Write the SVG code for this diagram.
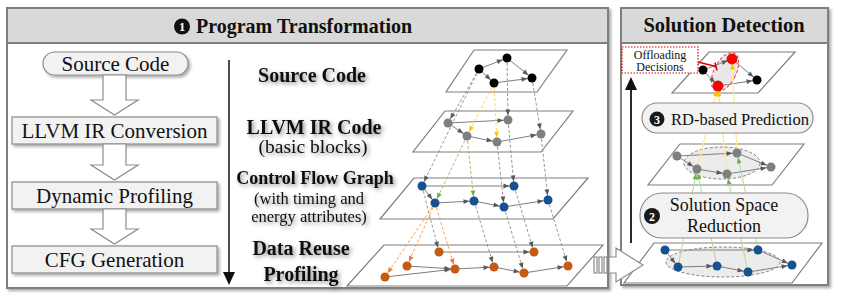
<svg xmlns="http://www.w3.org/2000/svg" width="842" height="302" viewBox="0 0 842 302">
<defs>
<style>
.t{font-family:"Liberation Serif","Times New Roman",serif;fill:#111}
.b{font-weight:bold}
.panel{fill:#fff;stroke:#7f7f7f;stroke-width:2}
.hdr{fill:#d9d9d9;stroke:#7f7f7f;stroke-width:2}
.box{fill:#f2f2f2;stroke:#8c8c8c;stroke-width:1.2}
.barrow{fill:#fff;stroke:#8c8c8c;stroke-width:1.2}
.plane{fill:none;stroke:#7f7f7f;stroke-width:1.2}
.e{stroke:#7f7f7f;stroke-width:1;fill:none;marker-end:url(#mg)}
.d{stroke:#8c8c8c;stroke-width:0.9;stroke-dasharray:3 2;fill:none;marker-end:url(#mg)}
.dy{stroke:#ffd24d;stroke-width:0.9;stroke-dasharray:3 2;fill:none;marker-end:url(#my)}
.dg{stroke:#8fbc5a;stroke-width:0.9;stroke-dasharray:3 2;fill:none;marker-end:url(#mgr)}
.do{stroke:#f79646;stroke-width:0.9;stroke-dasharray:3 2;fill:none;marker-end:url(#mo)}
.sg{stroke:#b5d69a;stroke-width:1;fill:none;marker-end:url(#mgr)}
.sy{stroke:#ffe699;stroke-width:1.2;fill:none;marker-end:url(#my)}
.nk{fill:#000}
.ng{fill:#7f7f7f}
.nb{fill:#15528f}
.no{fill:#c55a11}
.nr{fill:#ff0000;stroke:#c00000;stroke-width:0.8}
.ell{fill:#ececec;stroke:#7f7f7f;stroke-width:1;stroke-dasharray:3 2}
.pill{fill:#f2f2f2;stroke:#8c8c8c;stroke-width:1.2}
</style>
<marker id="mg" viewBox="0 0 10 10" refX="17.5" refY="5" markerWidth="6" markerHeight="6" markerUnits="userSpaceOnUse" orient="auto" overflow="visible"><path d="M0,1L10,5L0,9z" fill="#595959"/></marker>
<marker id="my" viewBox="0 0 10 10" refX="17.5" refY="5" markerWidth="6" markerHeight="6" markerUnits="userSpaceOnUse" orient="auto" overflow="visible"><path d="M0,1L10,5L0,9z" fill="#ffc000"/></marker>
<marker id="mgr" viewBox="0 0 10 10" refX="17.5" refY="5" markerWidth="6" markerHeight="6" markerUnits="userSpaceOnUse" orient="auto" overflow="visible"><path d="M0,1L10,5L0,9z" fill="#70ad47"/></marker>
<marker id="mo" viewBox="0 0 10 10" refX="17.5" refY="5" markerWidth="6" markerHeight="6" markerUnits="userSpaceOnUse" orient="auto" overflow="visible"><path d="M0,1L10,5L0,9z" fill="#ed7d31"/></marker>
<filter id="sh" x="-10%" y="-10%" width="130%" height="140%"><feDropShadow dx="2" dy="2" stdDeviation="1.5" flood-color="#000" flood-opacity="0.35"/></filter>
<filter id="tsh" x="-10%" y="-30%" width="130%" height="170%"><feDropShadow dx="2" dy="2" stdDeviation="2" flood-color="#000" flood-opacity="0.45"/></filter>
</defs>

<!-- Panels -->
<g id="panel-left">
<rect class="panel" x="7" y="8" width="601" height="280" filter="url(#sh)"/>
<rect class="hdr" x="7" y="8" width="601" height="35"/>
<circle cx="182" cy="26.5" r="8" fill="#111"/>
<text class="t b" x="182" y="31" font-size="12.5" text-anchor="middle" style="fill:#fff">1</text>
<text class="t b" x="196" y="33" font-size="20">Program Transformation</text>
</g>
<g id="panel-right">
<rect class="panel" x="621" y="8" width="207" height="277" filter="url(#sh)"/>
<rect class="hdr" x="621" y="8" width="207" height="35"/>
<text class="t b" x="724" y="32" font-size="20.5" text-anchor="middle">Solution Detection</text>
</g>

<!-- Flowchart -->
<g id="node-source">
<rect class="box" x="43" y="52" width="145" height="23" rx="11.5" filter="url(#sh)"/>
<text class="t" x="115.5" y="70.5" font-size="21" text-anchor="middle">Source Code</text>
</g>
<g id="node-llvm">
<rect class="box" x="12" y="117" width="205" height="27" filter="url(#sh)"/>
<text class="t" x="114.5" y="138" font-size="21" text-anchor="middle">LLVM IR Conversion</text>
</g>
<g id="node-dyn">
<rect class="box" x="12" y="182" width="205" height="27" filter="url(#sh)"/>
<text class="t" x="114.5" y="203" font-size="21" text-anchor="middle">Dynamic Profiling</text>
</g>
<g id="node-cfg">
<rect class="box" x="12" y="246" width="205" height="27" filter="url(#sh)"/>
<text class="t" x="114.5" y="267" font-size="21" text-anchor="middle">CFG Generation</text>
</g>
<g id="flow-arrows">
<path class="barrow" d="M103,75 H126 V100 H138 L114.5,115 L91,100 H103 Z"/>
<path class="barrow" d="M103,144 H126 V165 H138 L114.5,180 L91,165 H103 Z"/>
<path class="barrow" d="M103,209 H126 V229 H138 L114.5,244 L91,229 H103 Z"/>
<line x1="229" y1="60" x2="229" y2="274" stroke="#111" stroke-width="1.5"/>
<polygon points="223,272 235,272 229,285" fill="#111"/>
</g>

<!-- Layer labels -->
<g id="labels" filter="url(#tsh)">
<text class="t b" x="312" y="82" font-size="20" text-anchor="middle">Source Code</text>
<text class="t b" x="314" y="134" font-size="20" text-anchor="middle">LLVM IR Code</text>
<text class="t" x="313" y="153" font-size="19.5" text-anchor="middle">(basic blocks)</text>
<text class="t b" x="315" y="184" font-size="18" text-anchor="middle">Control Flow Graph</text>
<text class="t" x="309" y="203.5" font-size="16.5" text-anchor="middle">(with timing and</text>
<text class="t" x="309" y="222" font-size="16.5" text-anchor="middle">energy attributes)</text>
<text class="t b" x="301" y="255" font-size="20" text-anchor="middle">Data Reuse</text>
<text class="t b" x="301" y="281" font-size="20" text-anchor="middle">Profiling</text>
</g>

<!-- Planes -->
<g id="plane-source"><polygon class="plane" points="474,50 567,50 537,92 446,92"/></g>
<g id="plane-llvm"><polygon class="plane" points="445,111 573,111 541,152 413,152"/></g>
<g id="plane-cfg"><polygon class="plane" points="414,178 588,178 553,219 380,219"/></g>
<g id="plane-reuse"><polygon class="plane" points="384,245 603,245 567,286 347,286"/></g>
<g id="plane-offload">
<polygon class="plane" points="709,52 795,52 758,93 672,93"/>
<ellipse cx="725" cy="72" rx="11" ry="21" transform="rotate(27 725 72)" fill="#e8e8e8" stroke="#ff3333" stroke-width="1" stroke-dasharray="3 2"/>
</g>
<g id="plane-rd">
<polygon class="plane" points="680,144 804,144 772,185 648,185"/>
<ellipse class="ell" cx="722" cy="163" rx="38" ry="16"/>
</g>
<g id="plane-reduce">
<polygon class="plane" points="654,243 822,243 792,283 624,283"/>
<ellipse class="ell" cx="723" cy="262" rx="57" ry="15"/>
</g>

<!-- Connectors -->
<g id="connectors">
<line class="e" x1="479" y1="69" x2="507" y2="58"/>
<line class="e" x1="479" y1="69" x2="494" y2="83"/>
<line class="e" x1="494" y1="83" x2="532" y2="78"/>
<line class="e" x1="507" y1="58" x2="532" y2="78"/>
<line class="e" x1="448" y1="123" x2="508" y2="120"/>
<line class="e" x1="448" y1="123" x2="467" y2="136"/>
<line class="e" x1="467" y1="136" x2="497" y2="142"/>
<line class="e" x1="497" y1="142" x2="541" y2="134"/>
<line class="e" x1="422" y1="186" x2="514" y2="186"/>
<line class="e" x1="422" y1="186" x2="435" y2="203"/>
<line class="e" x1="435" y1="203" x2="474" y2="201"/>
<line class="e" x1="474" y1="201" x2="504" y2="207"/>
<line class="e" x1="504" y1="207" x2="548" y2="200"/>
<line class="e" x1="439" y1="252" x2="534" y2="252"/>
<line class="e" x1="407" y1="266" x2="455" y2="269"/>
<line class="e" x1="385" y1="277" x2="455" y2="269"/>
<line class="e" x1="455" y1="269" x2="494" y2="267"/>
<line class="e" x1="494" y1="267" x2="524" y2="273"/>
<line class="e" x1="524" y1="273" x2="568" y2="266"/>

<line class="d" x1="479" y1="69" x2="448" y2="123"/>
<line class="d" x1="507" y1="58" x2="508" y2="120"/>
<line class="d" x1="532" y1="78" x2="541" y2="134"/>
<line class="d" x1="479" y1="69" x2="422" y2="186"/>
<line class="d" x1="508" y1="120" x2="514" y2="186"/>
<line class="d" x1="497" y1="142" x2="504" y2="207"/>
<line class="d" x1="541" y1="134" x2="548" y2="200"/>
<line class="d" x1="422" y1="186" x2="439" y2="252"/>
<line class="d" x1="514" y1="186" x2="534" y2="252"/>
<line class="d" x1="474" y1="201" x2="494" y2="267"/>
<line class="d" x1="504" y1="207" x2="524" y2="273"/>
<line class="d" x1="548" y1="200" x2="568" y2="266"/>
<line class="dy" x1="494" y1="83" x2="467" y2="136"/>
<line class="dy" x1="494" y1="83" x2="497" y2="142"/>
<line class="dg" x1="467" y1="136" x2="435" y2="203"/>
<line class="dg" x1="467" y1="136" x2="474" y2="201"/>
<line class="do" x1="435" y1="203" x2="385" y2="277"/>
<line class="do" x1="435" y1="203" x2="407" y2="266"/>
<line class="do" x1="435" y1="203" x2="455" y2="269"/>

<line class="e" x1="703" y1="70" x2="732" y2="59"/>
<line class="e" x1="703" y1="70" x2="718" y2="86"/>
<line class="e" x1="732" y1="59" x2="757" y2="80"/>
<line class="e" x1="718" y1="86" x2="757" y2="80"/>
<line class="e" x1="677" y1="156" x2="697" y2="169"/>
<line class="e" x1="677" y1="156" x2="737" y2="153"/>
<line class="e" x1="697" y1="169" x2="727" y2="174"/>
<line class="e" x1="737" y1="153" x2="771" y2="167"/>
<line class="e" x1="727" y1="174" x2="771" y2="167"/>
<line class="e" x1="665" y1="250" x2="758" y2="250"/>
<line class="e" x1="665" y1="250" x2="678" y2="267"/>
<line class="e" x1="678" y1="267" x2="717" y2="266"/>
<line class="e" x1="717" y1="266" x2="748" y2="272"/>
<line class="e" x1="748" y1="272" x2="792" y2="265"/>
<line class="e" x1="758" y1="250" x2="792" y2="265"/>

<line class="sg" x1="678" y1="267" x2="697" y2="169"/>
<line class="sg" x1="717" y1="266" x2="697" y2="169"/>
<line class="sg" x1="748" y1="272" x2="727" y2="174"/>
<line class="sg" x1="758" y1="250" x2="737" y2="153"/>
<line class="sy" x1="697" y1="169" x2="718" y2="86"/>
<line class="sy" x1="727" y1="174" x2="718" y2="86"/>
<line class="sy" x1="737" y1="153" x2="732" y2="59"/>

<line x1="698" y1="62" x2="716" y2="66.5" stroke="#e00000" stroke-width="1.5"/>
<line x1="715" y1="62.5" x2="717" y2="70.5" stroke="#e00000" stroke-width="1.5"/>

<line x1="631" y1="243" x2="631" y2="88" stroke="#111" stroke-width="1.8"/>
<polygon points="625,90 631,77 637,90" fill="#111"/>
</g>

<!-- Graph nodes -->
<g id="nodes-source">
<circle class="nk" cx="479" cy="69" r="4.5"/><circle class="nk" cx="507" cy="58" r="4.5"/>
<circle class="nk" cx="494" cy="83" r="4.5"/><circle class="nk" cx="532" cy="78" r="4.5"/>
</g>
<g id="nodes-llvm">
<circle class="ng" cx="448" cy="123" r="4.5"/><circle class="ng" cx="508" cy="120" r="4.5"/>
<circle class="ng" cx="467" cy="136" r="4.5"/><circle class="ng" cx="497" cy="142" r="4.5"/>
<circle class="ng" cx="541" cy="134" r="4.5"/>
</g>
<g id="nodes-cfg">
<circle class="nb" cx="422" cy="186" r="4.5"/><circle class="nb" cx="514" cy="186" r="4.5"/>
<circle class="nb" cx="435" cy="203" r="4.5"/><circle class="nb" cx="474" cy="201" r="4.5"/>
<circle class="nb" cx="504" cy="207" r="4.5"/><circle class="nb" cx="548" cy="200" r="4.5"/>
</g>
<g id="nodes-reuse">
<circle class="no" cx="439" cy="252" r="4.5"/><circle class="no" cx="534" cy="252" r="4.5"/>
<circle class="no" cx="407" cy="266" r="4.5"/><circle class="no" cx="455" cy="269" r="4.5"/>
<circle class="no" cx="494" cy="267" r="4.5"/><circle class="no" cx="524" cy="273" r="4.5"/>
<circle class="no" cx="568" cy="266" r="4.5"/><circle class="no" cx="385" cy="277" r="4.5"/>
</g>
<g id="nodes-offload">
<circle class="nk" cx="703" cy="70" r="4.5"/><circle class="nr" cx="732" cy="59" r="5"/>
<circle class="nr" cx="718" cy="86" r="5"/><circle class="nk" cx="757" cy="80" r="4.5"/>
</g>
<g id="nodes-rd">
<circle class="ng" cx="677" cy="156" r="4.5"/><circle class="ng" cx="737" cy="153" r="4.5"/>
<circle class="ng" cx="697" cy="169" r="4.5"/><circle class="ng" cx="727" cy="174" r="4.5"/>
<circle class="ng" cx="771" cy="167" r="4.5"/>
</g>
<g id="nodes-reduce">
<circle class="nb" cx="665" cy="250" r="4.5"/><circle class="nb" cx="758" cy="250" r="4.5"/>
<circle class="nb" cx="678" cy="267" r="4.5"/><circle class="nb" cx="717" cy="266" r="4.5"/>
<circle class="nb" cx="748" cy="272" r="4.5"/><circle class="nb" cx="792" cy="265" r="4.5"/>
</g>

<!-- Right panel labels -->
<g id="node-offloading">
<rect x="622" y="47" width="76" height="26" fill="#fff" stroke="#e00000" stroke-width="1.2" stroke-dasharray="1.5 1.5"/>
<text class="t" x="660" y="58.5" font-size="12" text-anchor="middle">Offloading</text>
<text class="t" x="660" y="71" font-size="12" text-anchor="middle">Decisions</text>
</g>
<g id="node-rd">
<rect class="pill" x="642" y="103" width="171" height="30" rx="15"/>
<circle cx="657" cy="119" r="7.5" fill="#1a1a1a"/>
<text class="t b" x="657" y="123.5" font-size="12" text-anchor="middle" style="fill:#fff">3</text>
<text class="t" x="671" y="125" font-size="16.5">RD-based Prediction</text>
</g>
<g id="node-reduction">
<rect class="pill" x="640" y="193" width="168" height="45" rx="22"/>
<circle cx="652" cy="216" r="8" fill="#1a1a1a"/>
<text class="t b" x="652" y="220.5" font-size="12" text-anchor="middle" style="fill:#fff">2</text>
<text class="t" x="724" y="211" font-size="18" text-anchor="middle">Solution Space</text>
<text class="t" x="724" y="232" font-size="18" text-anchor="middle">Reduction</text>
</g>

<!-- Transition arrow -->
<g id="transition-arrow">
<rect class="barrow" x="594" y="257" width="3" height="16"/>
<rect class="barrow" x="599" y="257" width="3" height="16"/>
<rect class="barrow" x="604" y="257" width="3" height="16"/>
<path class="barrow" d="M609,257 H616 V248 L643,265 L616,282 V273 H609 Z"/>
</g>
</svg>
